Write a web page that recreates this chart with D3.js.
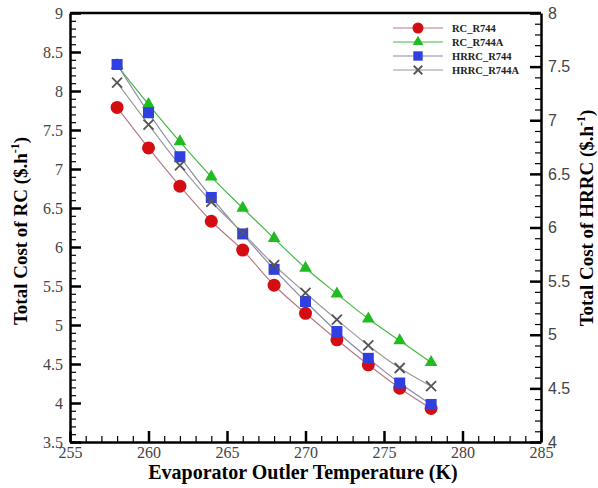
<!DOCTYPE html>
<html>
<head>
<meta charset="utf-8">
<script src="https://cdn.jsdelivr.net/npm/d3@7"></script>
<style>
  body { margin: 0; background: #fff; }
  svg { display: block; }
</style>
</head>
<body>
<svg id="chart" width="598" height="488"></svg>
<script>
// data
var temps = [258, 260, 262, 264, 266, 268, 270, 272, 274, 276, 278];
var rcR744 = [7.79, 7.27, 6.78, 6.33, 5.96, 5.51, 5.15, 4.81, 4.49, 4.19, 3.93];
var rcR744A = [8.33, 7.83, 7.35, 6.90, 6.50, 6.11, 5.73, 5.40, 5.08, 4.80, 4.52];
var hrrcR744 = [7.52, 7.07, 6.66, 6.28, 5.94, 5.61, 5.31, 5.03, 4.78, 4.55, 4.35];
var hrrcR744A = [7.35, 6.96, 6.58, 6.24, 5.95, 5.65, 5.39, 5.14, 4.90, 4.69, 4.52];
var xTicks = [255, 260, 265, 270, 275, 280, 285];
var yLeftTicks = [3.5, 4, 4.5, 5, 5.5, 6, 6.5, 7, 7.5, 8, 8.5, 9];
var yRightTicks = [4, 4.5, 5, 5.5, 6, 6.5, 7, 7.5, 8];

var svg = d3.select("#chart");
var margin = { top: 13, right: 57, bottom: 46, left: 70 };
var W = 598, H = 488;

var x = d3.scaleLinear().domain([255, 285]).range([margin.left, W - margin.right]);
var yL = d3.scaleLinear().domain([3.5, 9]).range([H - margin.bottom, margin.top]);
var yR = d3.scaleLinear().domain([4, 8]).range([H - margin.bottom, margin.top]);

var serif = "'Liberation Serif', 'Times New Roman', serif";
var sans = "'Liberation Sans', Arial, sans-serif";

// frame (top line)
svg.append("line")
  .attr("x1", x(255)).attr("x2", x(285))
  .attr("y1", yL(9)).attr("y2", yL(9))
  .attr("stroke", "#000").attr("stroke-width", 2.5);

function minorTicks(lo, hi, step) {
  var out = [];
  for (var v = lo; v <= hi + 1e-9; v += step) out.push(+v.toFixed(3));
  return out;
}

// x axis
svg.append("g")
  .attr("transform", "translate(0," + yL(3.5) + ")")
  .call(d3.axisBottom(x).tickValues(minorTicks(255, 285, 1)).tickSize(-6).tickFormat(""))
  .call(function (g) { g.select(".domain").remove(); g.selectAll("line").attr("stroke-width", 1.2); });
var xa = svg.append("g")
  .attr("transform", "translate(0," + yL(3.5) + ")")
  .call(d3.axisBottom(x).tickValues(xTicks).tickSizeInner(-11).tickSizeOuter(0).tickPadding(5).tickFormat(d3.format("d")));
xa.select(".domain").attr("stroke-width", 2.5);
xa.selectAll("line").attr("stroke-width", 2.5);
xa.selectAll("text").attr("font-family", serif).attr("font-size", 16).attr("fill", "#444");

// left axis
svg.append("g")
  .attr("transform", "translate(" + x(255) + ",0)")
  .call(d3.axisLeft(yL).tickValues(minorTicks(3.5, 9, 0.1)).tickSize(-6).tickFormat(""))
  .call(function (g) { g.select(".domain").remove(); g.selectAll("line").attr("stroke-width", 1.2); });
var la = svg.append("g")
  .attr("transform", "translate(" + x(255) + ",0)")
  .call(d3.axisLeft(yL).tickValues(yLeftTicks).tickSizeInner(-11).tickSizeOuter(0).tickPadding(7).tickFormat(d3.format("~g")));
la.select(".domain").attr("stroke-width", 2.5);
la.selectAll("line").attr("stroke-width", 2.5);
la.selectAll("text").attr("font-family", serif).attr("font-size", 16).attr("fill", "#444");

// right axis
svg.append("g")
  .attr("transform", "translate(" + x(285) + ",0)")
  .call(d3.axisRight(yR).tickValues(minorTicks(4, 8, 0.1)).tickSize(-6).tickFormat(""))
  .call(function (g) { g.select(".domain").remove(); g.selectAll("line").attr("stroke-width", 1.2); });
var ra = svg.append("g")
  .attr("transform", "translate(" + x(285) + ",0)")
  .call(d3.axisRight(yR).tickValues(yRightTicks).tickSizeInner(-11).tickSizeOuter(0).tickPadding(7).tickFormat(d3.format("~g")));
ra.select(".domain").attr("stroke-width", 2.5);
ra.selectAll("line").attr("stroke-width", 2.5);
ra.selectAll("text").attr("font-family", sans).attr("font-size", 16).attr("fill", "#444");

// series
var series = [
  { name: "RC_R744", vals: rcR744, y: yL, line: "#b87a86", shape: "circle" },
  { name: "RC_R744A", vals: rcR744A, y: yL, line: "#44b844", shape: "triangle" },
  { name: "HRRC_R744", vals: hrrcR744, y: yR, line: "#8a8aa8", shape: "square" },
  { name: "HRRC_R744A", vals: hrrcR744A, y: yR, line: "#9a9a9a", shape: "x" }
];

function drawSymbol(g, shape, cx, cy, s) {
  if (shape === "circle") {
    g.append("circle").attr("cx", cx).attr("cy", cy).attr("r", 6.5 * s).attr("fill", "#d40d12");
  } else if (shape === "triangle") {
    g.append("path").attr("transform", "translate(" + cx + "," + cy + ")")
      .attr("d", d3.symbol(d3.symbolTriangle, 70 * s * s)()).attr("fill", "#22bb22");
  } else if (shape === "square") {
    var h = 5.5 * s;
    g.append("rect").attr("x", cx - h).attr("y", cy - h).attr("width", 2 * h).attr("height", 2 * h).attr("fill", "#2f3fe0");
  } else {
    var k = 5 * s;
    g.append("path").attr("d", "M" + (cx - k) + "," + (cy - k) + "L" + (cx + k) + "," + (cy + k) + "M" + (cx + k) + "," + (cy - k) + "L" + (cx - k) + "," + (cy + k))
      .attr("stroke", "#555").attr("stroke-width", 1.8).attr("fill", "none");
  }
}

var plot = svg.append("g");
series.forEach(function (s) {
  var line = d3.line()
    .x(function (d, i) { return x(temps[i]); })
    .y(function (d) { return s.y(d); })
    .curve(d3.curveCatmullRom);
  plot.append("path").datum(s.vals).attr("d", line)
    .attr("fill", "none").attr("stroke", s.line).attr("stroke-width", 1.2);
});
series.forEach(function (s) {
  var g = plot.append("g");
  s.vals.forEach(function (v, i) { drawSymbol(g, s.shape, x(temps[i]), s.y(v), 1); });
});

// legend
var leg = svg.append("g");
series.forEach(function (s, i) {
  var ly = 28 + i * 14;
  leg.append("line").attr("x1", 393).attr("x2", 443).attr("y1", ly).attr("y2", ly)
    .attr("stroke", s.line).attr("stroke-width", 1.2);
  drawSymbol(leg, s.shape, 418, ly, 0.85);
  leg.append("text").attr("x", 452).attr("y", ly + 3.5)
    .attr("font-family", serif).attr("font-size", 10.5).attr("font-weight", "bold")
    .attr("fill", "#222").text(s.name);
});

// axis titles
svg.append("text")
  .attr("x", 303).attr("y", 479)
  .attr("text-anchor", "middle")
  .attr("font-family", serif).attr("font-size", 20).attr("font-weight", "bold")
  .text("Evaporator Outler Temperature (K)");

function yTitle(tx, ty, label) {
  var t = svg.append("text")
    .attr("transform", "translate(" + tx + "," + ty + ") rotate(-90)")
    .attr("text-anchor", "middle")
    .attr("font-family", serif).attr("font-size", 19).attr("font-weight", "bold");
  t.append("tspan").text(label + " ($.h");
  t.append("tspan").attr("dy", -8).attr("font-size", 12).text("-1");
  t.append("tspan").attr("dy", 8).text(")");
}
yTitle(27, 231, "Total Cost of RC");
yTitle(593, 218, "Total Cost of HRRC");
</script>
</body>
</html>
